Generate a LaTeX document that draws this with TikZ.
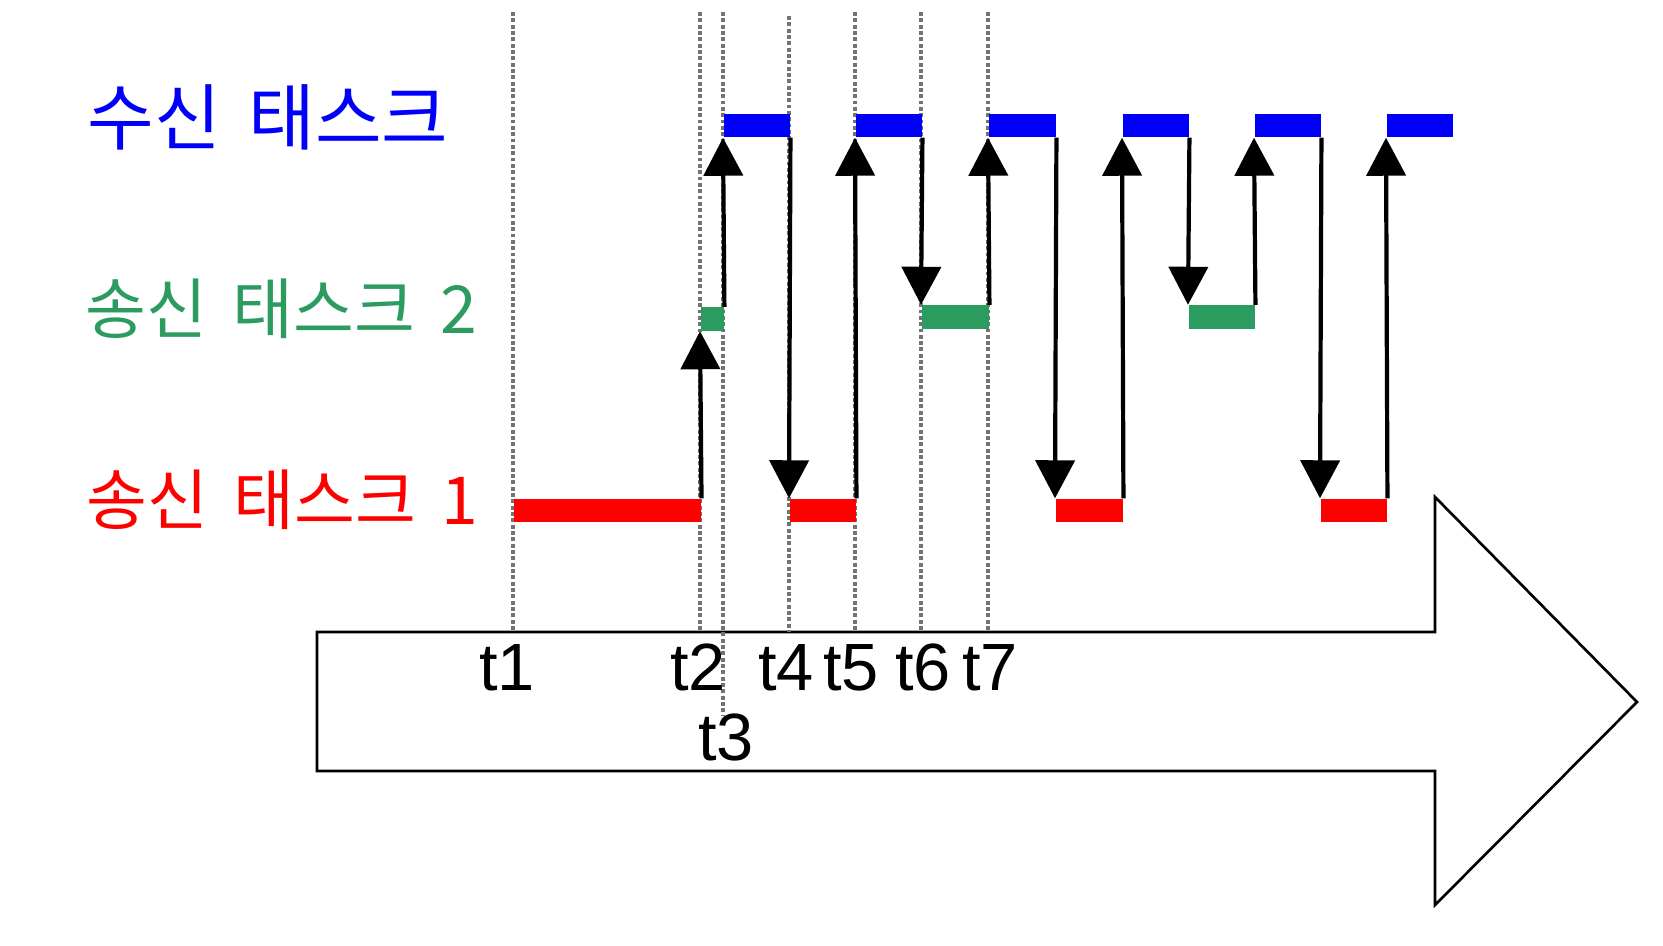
\documentclass[tikz,border=0pt]{standalone}
\usepackage{fontspec}
\setmainfont{Liberation Sans}
\newfontfamily\krfont[WordSpace=1.7]{Noto Sans CJK KR}
\usetikzlibrary{positioning, arrows.meta}
\definecolor{empfangblau}{RGB}{0,0,250}
\definecolor{sendgruen}{RGB}{44,155,96}
\definecolor{sendrot}{RGB}{255,0,0}
\tikzset{balken/.style={rectangle, inner sep=0, minimum height=2.3mm, anchor=west},
	empfang/.style={balken, fill=empfangblau},
	sendzwei/.style={balken, fill=sendgruen},
	sendeins/.style={balken, fill=sendrot},
	nachricht/.style={line width=0.42mm, -{Triangle[length=3.8mm, width=3.9mm]}},
	hilfslinie/.style={black!55, line width=0.9pt, dash pattern=on 1.1pt off 0.7pt},
	zeit/.style={anchor=base, inner sep=0, font=\fontsize{19}{22}\selectfont},
	aufgabe/.style={anchor=base west, inner sep=0} }

\begin{document}
\begin{tikzpicture}[x=0.01cm, y=-0.01cm]
  \useasboundingbox (0,0) rectangle (1663,945);

  % time axis
  \draw[line width=0.75pt, fill=white] (317,632) -- (1435,632) -- (1435,497) -- (1637,702)
  	-- (1435,905) -- (1435,771) -- (317,771) -- cycle;

  \foreach \x in {513,700,855,921,988}
  	\draw[hilfslinie] (\x,12) -- (\x,632);
  \draw[hilfslinie] (789,16) -- (789,632);
  \draw[hilfslinie] (723,12) -- (723,716);

  \foreach \x/\t in {507/1, 698/2, 786/4, 851/5, 923/6, 990/7}
  	\node (t\t) [zeit] at (\x,690) {t\t};
  \node (t3) [zeit] at (726,760) {t3};

  % task labels
  \node (empf) [aufgabe, text=empfangblau, font=\krfont\fontsize{20.6}{24}\selectfont] at (87,144) {수신 태스크};
  \node (send2) [aufgabe, text=sendgruen, font=\krfont\fontsize{18.8}{22}\selectfont] at (85,333) {송신 태스크 2};
  \node (send1) [aufgabe, text=sendrot, font=\krfont\fontsize{18.8}{22}\selectfont] at (86,524) {송신 태스크 1};

  % bars
  \node (r1) [sendeins, minimum width=18.7mm] at (513,510.5) {};
  \node (g1) [sendzwei, minimum width=2.3mm] at (700,319) {};
  \node (b1) [empfang, minimum width=6.6mm] at (723,125.5) {};
  \node (r2) [sendeins, minimum width=6.6mm] at (789,510.5) {};
  \node (b2) [empfang, minimum width=6.6mm] at (855,125.5) {};
  \node (g2) [sendzwei, minimum width=6.7mm] at (921,317) {};
  \node (b3) [empfang, minimum width=6.7mm] at (988,125.5) {};
  \node (r3) [sendeins, minimum width=6.7mm] at (1055,510.5) {};
  \node (b4) [empfang, minimum width=6.6mm] at (1122,125.5) {};
  \node (g3) [sendzwei, minimum width=6.6mm] at (1188,317) {};
  \node (b5) [empfang, minimum width=6.6mm] at (1254,125.5) {};
  \node (r4) [sendeins, minimum width=6.6mm] at (1320,510.5) {};
  \node (b6) [empfang, minimum width=6.6mm] at (1386,125.5) {};

  % messages
  \foreach \a/\b in {r1/g1, g1/b1, r2/b2, g2/b3, r3/b4, g3/b5, r4/b6}
  	\draw[nachricht] (\a.north east) -- (\b.south west);
  \foreach \a/\b in {b1/r2, b2/g2, b3/r3, b4/g3, b5/r4}
  	\draw[nachricht] (\a.south east) -- (\b.north west);
\end{tikzpicture}
\end{document}
